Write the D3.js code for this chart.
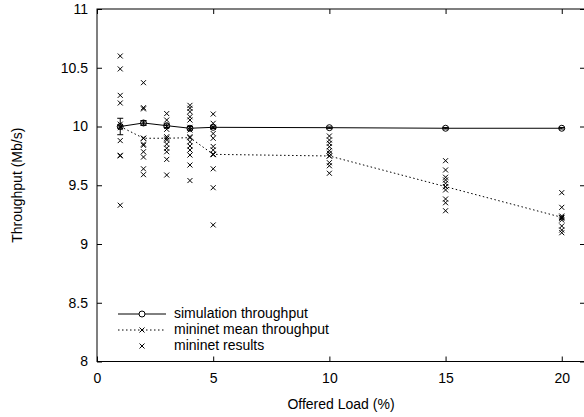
<!DOCTYPE html>
<html lang="en">
<head>
<meta charset="UTF-8">
<title>Throughput vs offered load</title>
<style>
  html, body { margin: 0; padding: 0; background: #fff; }
  svg { display: block; font-family: "Liberation Sans", Arial, sans-serif; }
  .axis text { font-size: 14px; fill: #000; }
  .axis path { display: none; }
  .axis line { stroke: #000; }
</style>
</head>
<body>
<div id="chart"></div>
<script src="https://d3js.org/d3.v7.min.js"></script>
<script>
// offered load (%) on the x axis
const loads = [1, 2, 3, 4, 5, 10, 15, 20];
// simulation throughput (Mb/s) and its error bar half-width
const simThroughput = [10.0, 10.03, 10.007, 9.985, 9.993, 9.99, 9.985, 9.985];
const simError = [0.07, 0.02, 0.015, 0.015, 0.01, 0.006, 0.006, 0.006];
// mininet mean throughput
const meanThroughput = [10.0, 9.90, 9.90, 9.905, 9.763, 9.749, 9.488, 9.227];
// individual mininet runs, one list per load
const mininetResults = [
  [10.60, 10.49, 10.265, 10.20, 10.02, 10.0, 9.99, 9.88, 9.755, 9.75, 9.33],
  [10.373, 10.16, 10.15, 10.03, 9.90, 9.85, 9.84, 9.785, 9.74, 9.64, 9.59],
  [10.11, 10.055, 10.0, 9.976, 9.913, 9.885, 9.85, 9.815, 9.785, 9.72, 9.587],
  [10.18, 10.155, 10.126, 10.083, 10.055, 9.993, 9.97, 9.913, 9.87, 9.834, 9.80, 9.757, 9.672, 9.54],
  [10.106, 10.027, 9.993, 9.94, 9.90, 9.83, 9.80, 9.765, 9.76, 9.64, 9.479, 9.162],
  [9.919, 9.885, 9.857, 9.828, 9.794, 9.772, 9.749, 9.692, 9.666, 9.602],
  [9.709, 9.63, 9.568, 9.545, 9.517, 9.488, 9.46, 9.383, 9.351, 9.283],
  [9.437, 9.312, 9.238, 9.225, 9.219, 9.204, 9.153, 9.119, 9.096]
];
const xTicks = [0, 5, 10, 15, 20];
const yTicks = [8, 8.5, 9, 9.5, 10, 10.5, 11];
const legendLabels = ["simulation throughput", "mininet mean throughput", "mininet results"];

const W = 584, H = 417;
const margin = {top: 9, right: -1, bottom: 55.5, left: 97};

const svg = d3.select("#chart").append("svg")
  .attr("width", W)
  .attr("height", H);

const x = d3.scaleLinear().domain([0, 21]).range([margin.left, W - margin.right]);
const y = d3.scaleLinear().domain([8, 11]).range([H - margin.bottom, margin.top]);

// axes with inward ticks on all four sides
svg.append("g").attr("class", "axis")
  .attr("transform", `translate(${x(0)},0)`)
  .call(d3.axisLeft(y).tickValues(yTicks).tickSize(-5).tickPadding(9)
    .tickFormat(d => d3.format("~g")(d)));
svg.append("g").attr("class", "axis")
  .attr("transform", `translate(${x(21)},0)`)
  .call(d3.axisRight(y).tickValues(yTicks).tickSize(-5).tickFormat(""));
svg.append("g").attr("class", "axis")
  .attr("transform", `translate(0,${y(8)})`)
  .call(d3.axisBottom(x).tickValues(xTicks).tickSize(-5).tickPadding(12));
svg.append("g").attr("class", "axis")
  .attr("transform", `translate(0,${y(11)})`)
  .call(d3.axisTop(x).tickValues(xTicks).tickSize(-5).tickFormat(""));

svg.append("rect")
  .attr("x", x(0)).attr("y", y(11))
  .attr("width", x(21) - x(0)).attr("height", y(8) - y(11))
  .attr("fill", "none").attr("stroke", "#000").attr("stroke-width", 1);

// axis titles
svg.append("text")
  .attr("x", (x(0) + x(21)) / 2).attr("y", 405)
  .attr("text-anchor", "middle").attr("dominant-baseline", "middle")
  .attr("font-size", 14)
  .text("Offered Load (%)");
svg.append("text")
  .attr("transform", `translate(18,${(y(8) + y(11)) / 2}) rotate(-90)`)
  .attr("text-anchor", "middle").attr("dominant-baseline", "middle")
  .attr("font-size", 14)
  .text("Throughput (Mb/s)");

function cross(g, cx, cy, s) {
  g.append("path")
    .attr("d", `M${cx - s},${cy - s}L${cx + s},${cy + s}M${cx - s},${cy + s}L${cx + s},${cy - s}`)
    .attr("stroke", "#000").attr("stroke-width", 1).attr("fill", "none");
}

// individual mininet results
const pts = svg.append("g");
mininetResults.forEach((vals, i) => {
  vals.forEach(v => cross(pts, x(loads[i]), y(v), 2.5));
});

// mininet mean (dotted)
const line = d3.line().x(d => x(d[0])).y(d => y(d[1]));
const meanData = loads.map((l, i) => [l, meanThroughput[i]]);
svg.append("path")
  .datum(meanData)
  .attr("d", line)
  .attr("fill", "none").attr("stroke", "#000").attr("stroke-width", 1)
  .attr("stroke-dasharray", "1.5,2.5");
const meanPts = svg.append("g");
meanData.forEach(d => cross(meanPts, x(d[0]), y(d[1]), 2.5));

// simulation throughput with error bars
const simData = loads.map((l, i) => [l, simThroughput[i], simError[i]]);
svg.append("path")
  .datum(simData)
  .attr("d", line)
  .attr("fill", "none").attr("stroke", "#000").attr("stroke-width", 1);
const err = svg.append("g").attr("stroke", "#000").attr("stroke-width", 1);
simData.forEach(d => {
  const cx = x(d[0]), y0 = y(d[1] - d[2]), y1 = y(d[1] + d[2]);
  err.append("line").attr("x1", cx).attr("x2", cx).attr("y1", y0).attr("y2", y1);
  err.append("line").attr("x1", cx - 3).attr("x2", cx + 3).attr("y1", y0).attr("y2", y0);
  err.append("line").attr("x1", cx - 3).attr("x2", cx + 3).attr("y1", y1).attr("y2", y1);
});
svg.append("g").selectAll("circle")
  .data(simData)
  .join("circle")
  .attr("cx", d => x(d[0])).attr("cy", d => y(d[1])).attr("r", 3)
  .attr("fill", "none").attr("stroke", "#000").attr("stroke-width", 1);

// legend
const lg = svg.append("g");
const lx0 = 118, lx1 = 166, lmid = 142, ltext = 174;
const rows = [314, 330, 346];
lg.append("line").attr("x1", lx0).attr("x2", lx1).attr("y1", rows[0]).attr("y2", rows[0])
  .attr("stroke", "#000");
lg.append("circle").attr("cx", lmid).attr("cy", rows[0]).attr("r", 3)
  .attr("fill", "#fff").attr("stroke", "#000");
lg.append("line").attr("x1", lx0).attr("x2", lx1).attr("y1", rows[1]).attr("y2", rows[1])
  .attr("stroke", "#000").attr("stroke-dasharray", "1.5,2.5");
cross(lg, lmid, rows[1], 2.5);
cross(lg, lmid, rows[2], 2.5);
lg.selectAll("text")
  .data(legendLabels)
  .join("text")
  .attr("x", ltext).attr("y", (d, i) => rows[i])
  .attr("dominant-baseline", "middle")
  .attr("font-size", 14)
  .text(d => d);
</script>
</body>
</html>
